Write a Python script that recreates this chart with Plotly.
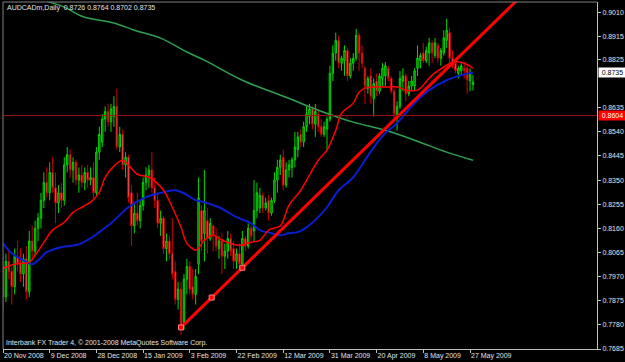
import plotly.graph_objects as go

symbol_title = "AUDCADm,Daily"

date_labels = ["20 Nov 2008", "9 Dec 2008", "28 Dec 2008", "15 Jan 2009", "3 Feb 2009",
               "22 Feb 2009", "12 Mar 2009", "31 Mar 2009", "20 Apr 2009", "8 May 2009", "27 May 2009"]
date_label_bars = [0, 16, 32, 48, 64, 80, 96, 112, 128, 144, 160]

price_ticks = [0.9010, 0.8915, 0.8825, 0.8635, 0.8540, 0.8445, 0.8350, 0.8255,
               0.8160, 0.8065, 0.7970, 0.7875, 0.7780, 0.7685]

opens = [0.8010, 0.7890, 0.8030, 0.7990, 0.7930, 0.8050, 0.8020, 0.7980, 0.8040, 0.7910,
         0.8110, 0.8070, 0.8160, 0.8200, 0.8270, 0.8340, 0.8300, 0.8380, 0.8320, 0.8260,
         0.8300, 0.8270, 0.8410, 0.8450, 0.8390, 0.8420, 0.8350, 0.8370, 0.8340, 0.8380,
         0.8350, 0.8360, 0.8300, 0.8460, 0.8500, 0.8590, 0.8620, 0.8580, 0.8600, 0.8640,
         0.8480, 0.8530, 0.8410, 0.8440, 0.8300, 0.8170, 0.8220, 0.8190, 0.8250, 0.8340,
         0.8370, 0.8390, 0.8320, 0.8270, 0.8180, 0.8200, 0.8080, 0.8110, 0.8060, 0.7990,
         0.7880, 0.7920, 0.7790, 0.7960, 0.8010, 0.7930, 0.7900, 0.8020, 0.8230, 0.8140,
         0.8190, 0.8120, 0.8170, 0.8130, 0.8080, 0.8110, 0.8050, 0.8070, 0.8120, 0.8080,
         0.8030, 0.8060, 0.8020, 0.8120, 0.8090, 0.8160, 0.8150, 0.8230, 0.8240, 0.8290,
         0.8240, 0.8270, 0.8220, 0.8270, 0.8350, 0.8400, 0.8440, 0.8330, 0.8390, 0.8400,
         0.8430, 0.8470, 0.8530, 0.8500, 0.8560, 0.8600, 0.8630, 0.8570, 0.8610, 0.8560,
         0.8530, 0.8550, 0.8590, 0.8770, 0.8850, 0.8900, 0.8810, 0.8820, 0.8860, 0.8760,
         0.8810, 0.8830, 0.8920, 0.8850, 0.8790, 0.8710, 0.8760, 0.8670, 0.8740, 0.8700,
         0.8750, 0.8760, 0.8790, 0.8750, 0.8700, 0.8600, 0.8640, 0.8740, 0.8760, 0.8690,
         0.8720, 0.8720, 0.8790, 0.8820, 0.8850, 0.8820, 0.8850, 0.8890, 0.8840, 0.8880,
         0.8830, 0.8850, 0.8900, 0.8930, 0.8830, 0.8810, 0.8770, 0.8780, 0.8790, 0.8790,
         0.8740, 0.8726]
highs = [0.8050, 0.8060, 0.8070, 0.8010, 0.8080, 0.8110, 0.8080, 0.8060, 0.8090, 0.8150,
         0.8170, 0.8190, 0.8220, 0.8300, 0.8380, 0.8400, 0.8420, 0.8440, 0.8380, 0.8330,
         0.8340, 0.8440, 0.8480, 0.8470, 0.8440, 0.8430, 0.8400, 0.8410, 0.8400, 0.8410,
         0.8400, 0.8420, 0.8480, 0.8560, 0.8610, 0.8640, 0.8650, 0.8650, 0.8680, 0.8710,
         0.8560, 0.8550, 0.8460, 0.8450, 0.8330, 0.8260, 0.8300, 0.8270, 0.8360, 0.8400,
         0.8410, 0.8460, 0.8360, 0.8300, 0.8230, 0.8210, 0.8140, 0.8130, 0.8200, 0.8030,
         0.7950, 0.7950, 0.7980, 0.8040, 0.8030, 0.8000, 0.8000, 0.8360, 0.8250, 0.8390,
         0.8240, 0.8200, 0.8170, 0.8160, 0.8130, 0.8140, 0.8100, 0.8150, 0.8140, 0.8110,
         0.8080, 0.8100, 0.8150, 0.8130, 0.8180, 0.8170, 0.8350, 0.8340, 0.8320, 0.8300,
         0.8280, 0.8290, 0.8280, 0.8380, 0.8430, 0.8450, 0.8470, 0.8420, 0.8430, 0.8440,
         0.8540, 0.8540, 0.8550, 0.8580, 0.8640, 0.8650, 0.8640, 0.8650, 0.8630, 0.8590,
         0.8580, 0.8600, 0.8800, 0.8880, 0.8930, 0.8920, 0.8840, 0.8880, 0.8870, 0.8830,
         0.8850, 0.8945, 0.8930, 0.8880, 0.8800, 0.8760, 0.8790, 0.8750, 0.8770, 0.8770,
         0.8810, 0.8815, 0.8800, 0.8760, 0.8710, 0.8660, 0.8780, 0.8790, 0.8770, 0.8740,
         0.8760, 0.8790, 0.8880, 0.8850, 0.8890, 0.8875, 0.8910, 0.8900, 0.8910, 0.8890,
         0.8870, 0.8940, 0.8985, 0.8950, 0.8860, 0.8830, 0.8800, 0.8810, 0.8815, 0.8800,
         0.8790, 0.8764]
lows = [0.7840, 0.7870, 0.7960, 0.7860, 0.7900, 0.7990, 0.7950, 0.7930, 0.7880, 0.7890,
        0.8040, 0.8050, 0.8110, 0.8160, 0.8240, 0.8280, 0.8270, 0.8300, 0.8180, 0.8220,
        0.8240, 0.8250, 0.8380, 0.8360, 0.8340, 0.8330, 0.8300, 0.8320, 0.8310, 0.8320,
        0.8330, 0.8280, 0.8290, 0.8430, 0.8480, 0.8540, 0.8560, 0.8540, 0.8560, 0.8470,
        0.8460, 0.8390, 0.8360, 0.8260, 0.8090, 0.8140, 0.8170, 0.8160, 0.8230, 0.8310,
        0.8320, 0.8300, 0.8240, 0.8160, 0.8130, 0.8060, 0.8030, 0.8040, 0.7960, 0.7860,
        0.7840, 0.7740, 0.7760, 0.7900, 0.7900, 0.7880, 0.7860, 0.7980, 0.8070, 0.8030,
        0.8060, 0.8110, 0.8070, 0.8070, 0.8040, 0.7980, 0.8000, 0.8040, 0.8050, 0.8000,
        0.8000, 0.8000, 0.8005, 0.8070, 0.8080, 0.8110, 0.8110, 0.8200, 0.8220, 0.8220,
        0.8230, 0.8190, 0.8210, 0.8260, 0.8300, 0.8370, 0.8310, 0.8320, 0.8360, 0.8360,
        0.8400, 0.8440, 0.8480, 0.8480, 0.8540, 0.8570, 0.8550, 0.8520, 0.8540, 0.8520,
        0.8520, 0.8470, 0.8580, 0.8740, 0.8820, 0.8790, 0.8780, 0.8760, 0.8740, 0.8750,
        0.8780, 0.8820, 0.8780, 0.8790, 0.8650, 0.8690, 0.8650, 0.8600, 0.8680, 0.8690,
        0.8720, 0.8720, 0.8740, 0.8690, 0.8590, 0.8545, 0.8630, 0.8700, 0.8660, 0.8680,
        0.8700, 0.8700, 0.8760, 0.8790, 0.8810, 0.8810, 0.8800, 0.8810, 0.8830, 0.8810,
        0.8800, 0.8840, 0.8870, 0.8810, 0.8790, 0.8770, 0.8750, 0.8760, 0.8750, 0.8690,
        0.8700, 0.8702]
closes = [0.7890, 0.8030, 0.7990, 0.7930, 0.8050, 0.8020, 0.7980, 0.8040, 0.7910, 0.8110,
          0.8070, 0.8160, 0.8200, 0.8270, 0.8340, 0.8300, 0.8380, 0.8320, 0.8260, 0.8300,
          0.8270, 0.8410, 0.8450, 0.8390, 0.8420, 0.8350, 0.8370, 0.8340, 0.8380, 0.8350,
          0.8360, 0.8300, 0.8460, 0.8530, 0.8590, 0.8620, 0.8580, 0.8630, 0.8640, 0.8480,
          0.8530, 0.8410, 0.8440, 0.8280, 0.8170, 0.8220, 0.8190, 0.8250, 0.8340, 0.8370,
          0.8390, 0.8320, 0.8270, 0.8180, 0.8200, 0.8080, 0.8110, 0.8060, 0.7980, 0.7880,
          0.7920, 0.7775, 0.7960, 0.8010, 0.7920, 0.7900, 0.7970, 0.8280, 0.8110, 0.8230,
          0.8120, 0.8180, 0.8130, 0.8090, 0.8110, 0.8050, 0.8070, 0.8120, 0.8070, 0.8030,
          0.8060, 0.8020, 0.8120, 0.8090, 0.8160, 0.8130, 0.8230, 0.8300, 0.8290, 0.8240,
          0.8260, 0.8220, 0.8270, 0.8350, 0.8400, 0.8430, 0.8330, 0.8390, 0.8410, 0.8430,
          0.8480, 0.8520, 0.8500, 0.8560, 0.8610, 0.8630, 0.8570, 0.8620, 0.8560, 0.8530,
          0.8560, 0.8590, 0.8770, 0.8850, 0.8900, 0.8810, 0.8830, 0.8860, 0.8760, 0.8810,
          0.8830, 0.8920, 0.8850, 0.8810, 0.8720, 0.8750, 0.8680, 0.8730, 0.8700, 0.8760,
          0.8790, 0.8800, 0.8750, 0.8700, 0.8610, 0.8640, 0.8750, 0.8760, 0.8690, 0.8720,
          0.8740, 0.8780, 0.8830, 0.8840, 0.8820, 0.8860, 0.8890, 0.8850, 0.8890, 0.8830,
          0.8860, 0.8910, 0.8940, 0.8830, 0.8800, 0.8780, 0.8790, 0.8800, 0.8780, 0.8745,
          0.8770, 0.8735]

# fast moving average (red)
ma_fast_bars = [0, 4, 9, 11, 14, 17, 21, 24, 27, 30, 33, 35, 38, 41, 43, 46, 50, 52, 55, 58,
                61, 63, 66, 67, 69, 72, 75, 81, 85, 88, 91, 95, 98, 102, 108, 111, 114, 116, 120, 122,
                124, 127, 131, 135, 138, 142, 144, 147, 152, 154, 158, 161]
ma_fast_vals = [0.8003, 0.8019, 0.8027, 0.8054, 0.8105, 0.8153, 0.8184, 0.8223, 0.8243, 0.8263,
                0.8302, 0.8361, 0.8405, 0.8428, 0.8409, 0.8373, 0.8361, 0.8346, 0.8310, 0.8243,
                0.8164, 0.8101, 0.8074, 0.8082, 0.8113, 0.8133, 0.8113, 0.8093, 0.8105, 0.8113,
                0.8153, 0.8170, 0.8251, 0.8310, 0.8428, 0.8468, 0.8546, 0.8613, 0.8653, 0.8696,
                0.8712, 0.8716, 0.8716, 0.8716, 0.8704, 0.8704, 0.8724, 0.8763, 0.8802, 0.8814,
                0.8810, 0.8791]
# slow moving average (blue)
ma_slow_bars = [0, 3, 7, 10, 12, 15, 20, 26, 30, 33, 37, 43, 49, 55, 59, 62, 66, 69, 74, 80,
                85, 88, 92, 95, 98, 101, 104, 108, 111, 115, 120, 124, 127, 131, 135, 141, 146, 152, 157, 160,
                161]
ma_slow_vals = [0.8101, 0.8062, 0.8034, 0.8019, 0.8034, 0.8066, 0.8086, 0.8097, 0.8121, 0.8145,
                0.8180, 0.8243, 0.8283, 0.8302, 0.8310, 0.8298, 0.8271, 0.8263, 0.8243, 0.8204,
                0.8180, 0.8153, 0.8141, 0.8133, 0.8141, 0.8145, 0.8164, 0.8204, 0.8243, 0.8310,
                0.8361, 0.8428, 0.8479, 0.8535, 0.8574, 0.8653, 0.8704, 0.8743, 0.8763, 0.8771,
                0.8771]
# long moving average (green)
ma_long_bars = [0, 14, 21, 27, 38, 45, 54, 63, 69, 82, 97, 108, 120, 131, 141, 152, 161]
ma_long_vals = [0.9114, 0.9058, 0.9031, 0.8995, 0.8968, 0.8940, 0.8909, 0.8854, 0.8822, 0.8743,
                0.8676, 0.8625, 0.8578, 0.8546, 0.8507, 0.8460, 0.8428]

# trend line anchors (ray)
trend_bars = [61, 82]
trend_prices = [0.7770, 0.8005]
level_price = 0.8604

bars = list(range(len(opens)))
x_max = 203.5
y_min, y_max = 0.7685, 0.9051

FONT = "Liberation Sans"
TXT = "#e4e4e4"

fig = go.Figure()

fig.add_trace(go.Candlestick(
    x=bars, open=opens, high=highs, low=lows, close=closes,
    increasing=dict(line=dict(color="#00d800", width=1), fillcolor="#006000"),
    decreasing=dict(line=dict(color="#d00000", width=1), fillcolor="#ff8080"),
    whiskerwidth=0, hoverinfo="skip"))

fig.add_trace(go.Scatter(x=ma_long_bars, y=ma_long_vals, mode="lines",
                         line=dict(color="#2fa050", width=1.5, shape="spline"), hoverinfo="skip"))
fig.add_trace(go.Scatter(x=ma_slow_bars, y=ma_slow_vals, mode="lines",
                         line=dict(color="#0a1ed0", width=2, shape="spline"), hoverinfo="skip"))
fig.add_trace(go.Scatter(x=ma_fast_bars, y=ma_fast_vals, mode="lines",
                         line=dict(color="#ff0000", width=1.5, shape="spline"), hoverinfo="skip"))

# trend ray extended to the right edge
slope = (trend_prices[1] - trend_prices[0]) / (trend_bars[1] - trend_bars[0])
ray_x = [trend_bars[0], x_max + 5]
ray_y = [trend_prices[0], trend_prices[0] + slope * (x_max + 5 - trend_bars[0])]
fig.add_trace(go.Scatter(x=ray_x, y=ray_y, mode="lines",
                         line=dict(color="#ff0000", width=3), hoverinfo="skip"))
mid_x = (trend_bars[0] + trend_bars[1]) / 2
mid_y = (trend_prices[0] + trend_prices[1]) / 2
fig.add_trace(go.Scatter(x=[trend_bars[0], mid_x, trend_bars[1]],
                         y=[trend_prices[0], mid_y, trend_prices[1]], mode="markers",
                         marker=dict(symbol="square", size=5, color="#ff0000",
                                     line=dict(color="#ff8080", width=1)),
                         hoverinfo="skip"))

shapes = [
    dict(type="line", xref="paper", yref="y", x0=0, x1=1, y0=level_price, y1=level_price,
         line=dict(color="#a01010", width=1)),
    dict(type="line", xref="paper", yref="paper", x0=0, x1=0, y0=0, y1=1,
         line=dict(color="#808080", width=1)),
    dict(type="line", xref="paper", yref="paper", x0=0, x1=1, y0=1, y1=1,
         line=dict(color="#808080", width=1)),
]

title_text = "%s  %.4f %.4f %.4f %.4f" % (symbol_title, opens[-1], highs[-1], lows[-1], closes[-1])

annotations = [
    dict(text=title_text, xref="paper", yref="paper", x=0, y=1, xanchor="left", yanchor="middle",
         xshift=2, yshift=-6, showarrow=False, font=dict(family=FONT, size=7, color=TXT)),
    dict(text="Interbank FX Trader 4, \u00a9 2001-2008 MetaQuotes Software Corp.", xref="paper",
         yref="paper", x=0, y=0, xanchor="left", yanchor="middle", xshift=1, yshift=6,
         showarrow=False, font=dict(family=FONT, size=7, color=TXT)),
    dict(text="%.4f" % level_price, xref="paper", yref="y", x=1, y=level_price, xanchor="left",
         yanchor="middle", xshift=1, showarrow=False, bgcolor="#ff0000", borderpad=0,
         width=27, height=9, font=dict(family=FONT, size=7, color="#ffffff")),
    dict(text="%.4f" % closes[-1], xref="paper", yref="y", x=1, y=closes[-1], xanchor="left",
         yanchor="middle", xshift=1, yshift=10, showarrow=False, bgcolor="#ffffff", borderpad=0,
         width=27, height=9, font=dict(family=FONT, size=7, color="#000000")),
]

fig.update_layout(
    width=625, height=362, autosize=False,
    margin=dict(l=3, r=28, t=2, b=13, pad=0),
    paper_bgcolor="#000000", plot_bgcolor="#000000",
    showlegend=False, shapes=shapes, annotations=annotations,
    xaxis=dict(range=[0, x_max], rangeslider=dict(visible=False), showgrid=False, zeroline=False,
               showline=True, linecolor="#c0c0c0", linewidth=1, automargin=False,
               tickmode="array", tickvals=date_label_bars, ticktext=date_labels, tickangle=0,
               ticks="outside", ticklen=3, tickcolor="#c0c0c0",
               ticklabelposition="outside right",
               tickfont=dict(family=FONT, size=7, color=TXT)),
    yaxis=dict(range=[y_min, y_max], side="right", showgrid=False, zeroline=False,
               showline=True, linecolor="#c0c0c0", linewidth=1, automargin=False,
               tickmode="array", tickvals=price_ticks, ticktext=["%.4f" % v for v in price_ticks],
               ticks="outside", ticklen=3, tickcolor="#c0c0c0",
               tickfont=dict(family=FONT, size=7, color=TXT)),
)

fig.write_html("out.html")
